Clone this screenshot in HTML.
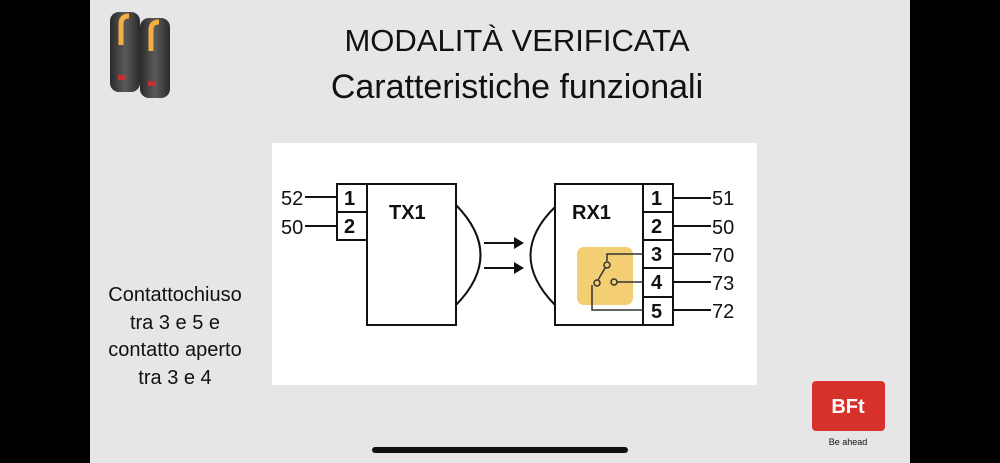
<!DOCTYPE html>
<html><head><meta charset="utf-8"><style>
body{margin:0;width:1000px;height:463px;background:#000;position:relative;overflow:hidden;font-family:"Liberation Sans","DejaVu Sans",sans-serif}
#bg{position:absolute;left:90px;top:0;width:820px;height:463px;background:#e6e6e6}
.t{position:absolute;left:222px;width:590px;text-align:center;color:#111}
#left{position:absolute;left:85px;top:282px;width:180px;text-align:center;font-size:20px;line-height:27.5px;color:#111}
#panel{position:absolute;left:272px;top:143px;width:485px;height:242px;background:#fff}
#bar{position:absolute;left:372px;top:447px;width:256px;height:6px;border-radius:3px;background:#111}
</style></head><body>
<div id="bg"></div>
<div class="t" style="top:23px;font-size:31px">MODALITÀ VERIFICATA</div>
<div class="t" style="top:68px;font-size:34px">Caratteristiche funzionali</div>
<div id="left">Contattochiuso<br>tra 3 e 5 e<br>contatto aperto<br>tra 3 e 4</div>
<div id="panel"></div>
<svg width="1000" height="463" style="position:absolute;left:0;top:0" font-family="Liberation Sans,sans-serif">
<defs><linearGradient id="g" x1="0" x2="1"><stop offset="0" stop-color="#2a2a2a"/><stop offset="0.5" stop-color="#5a5a5a"/><stop offset="1" stop-color="#2a2a2a"/></linearGradient></defs>
<g>
<rect x="110" y="12" width="30" height="80" rx="9" fill="url(#g)"/>
<rect x="140" y="18" width="30" height="80" rx="9" fill="url(#g)"/>
<path d="M121 45 V24 Q121 16 129 16" stroke="#f4b040" stroke-width="5" fill="none"/>
<path d="M151 51 V30 Q151 22 159 22" stroke="#f4b040" stroke-width="5" fill="none"/>
<rect x="118" y="75" width="8" height="5" fill="#c03030"/>
<rect x="148" y="81" width="8" height="5" fill="#c03030"/>
</g>
<rect x="812" y="381" width="73" height="50" rx="4" fill="#d6312b"/>
<text x="848" y="413" font-size="20" font-weight="bold" fill="#fff" text-anchor="middle">BFt</text>
<text x="848" y="445" font-size="9" fill="#111" text-anchor="middle">Be ahead</text>
<g stroke="#111" stroke-width="2" fill="none">
<rect x="367" y="184" width="89" height="141"/>
<rect x="337" y="184" width="30" height="28"/>
<rect x="337" y="212" width="30" height="28"/>
<line x1="305" y1="197" x2="337" y2="197"/>
<line x1="305" y1="226" x2="337" y2="226"/>
<path d="M456 205 Q505 255 456 305"/>
<line x1="484" y1="243" x2="516" y2="243"/>
<line x1="484" y1="268" x2="516" y2="268"/>
<rect x="555" y="184" width="88" height="141"/>
<rect x="643" y="184" width="30" height="28"/>
<rect x="643" y="212" width="30" height="28"/>
<rect x="643" y="240" width="30" height="28"/>
<rect x="643" y="268" width="30" height="29"/>
<rect x="643" y="297" width="30" height="28"/>
<path d="M555 207 Q506 255 555 305"/>
<line x1="673" y1="198" x2="711" y2="198"/>
<line x1="673" y1="226" x2="711" y2="226"/>
<line x1="673" y1="254" x2="711" y2="254"/>
<line x1="673" y1="282" x2="711" y2="282"/>
<line x1="673" y1="310" x2="711" y2="310"/>
</g>
<path d="M514 237 L524 243 L514 249Z M514 262 L524 268 L514 274Z" fill="#111"/>
<rect x="577" y="247" width="56" height="58" rx="7" fill="#f0c250" opacity="0.8"/>
<g stroke="#333" stroke-width="1.5" fill="none">
<path d="M643 254 H607 V261"/>
<circle cx="607" cy="265" r="3"/>
<line x1="605" y1="268" x2="598" y2="280"/>
<circle cx="597" cy="283" r="3"/>
<path d="M592 285 V310 H643"/>
<circle cx="614" cy="282" r="3"/>
<line x1="617" y1="282" x2="643" y2="282"/>
</g>
<g font-size="20" font-weight="bold" fill="#111">
<text x="344" y="205">1</text><text x="344" y="233">2</text>
<text x="389" y="219">TX1</text><text x="572" y="219">RX1</text>
<text x="651" y="205">1</text><text x="651" y="233">2</text><text x="651" y="261">3</text><text x="651" y="289">4</text><text x="651" y="318">5</text>
</g>
<g font-size="20" fill="#111">
<text x="281" y="205">52</text><text x="281" y="234">50</text>
<text x="712" y="205">51</text><text x="712" y="234">50</text><text x="712" y="262">70</text><text x="712" y="290">73</text><text x="712" y="318">72</text>
</g>
</svg>
<div id="bar"></div>
</body></html>
